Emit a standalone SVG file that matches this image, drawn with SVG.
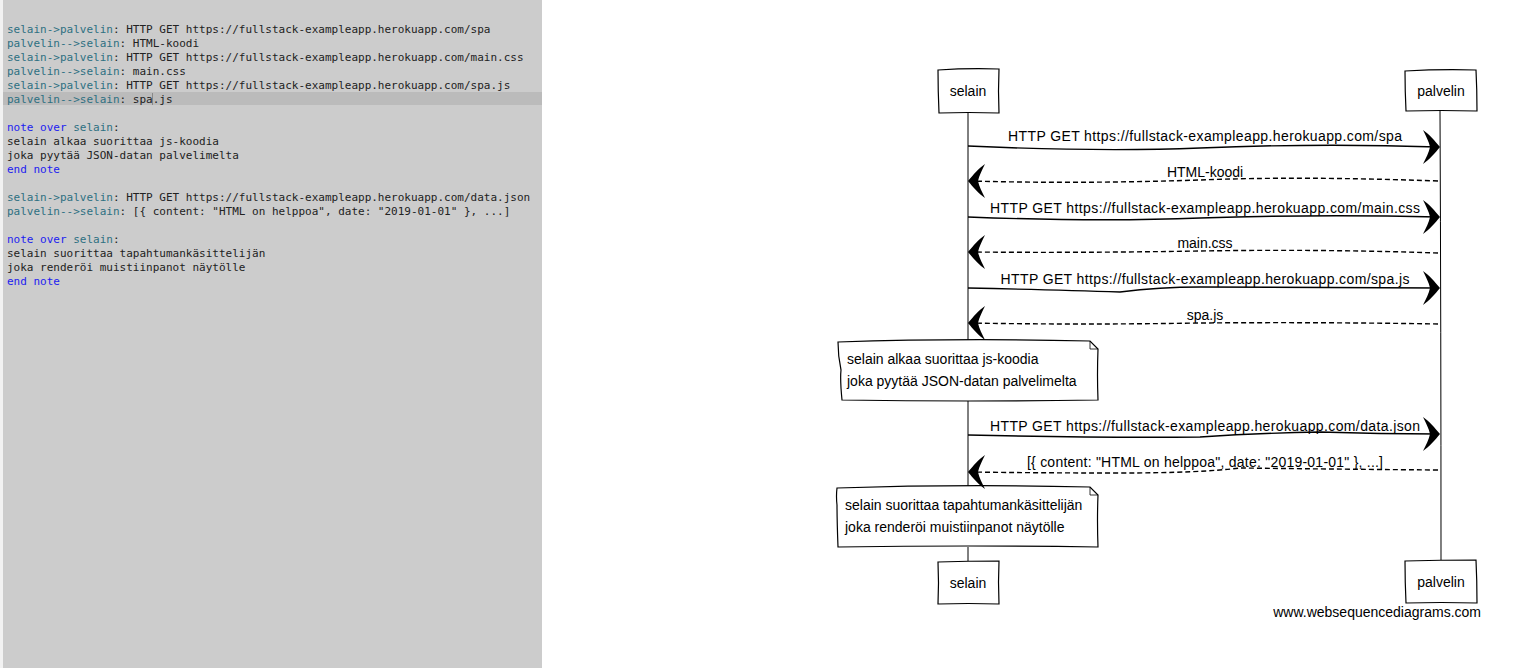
<svg xmlns="http://www.w3.org/2000/svg" width="1518" height="668" viewBox="0 0 1518 668">
<style>
.code{font-family:"DejaVu Sans Mono","Liberation Mono",monospace;font-size:11px;fill:#222}
.kw{fill:#2e7082}
.blue{fill:#1c1cf0}
.lbl{font-family:"Liberation Sans",Arial,sans-serif;font-size:14px;fill:#000}
.box{fill:#fff;stroke:#000;stroke-width:1.2}
.life{fill:none;stroke:#000;stroke-width:1}
.msg{fill:none;stroke:#000;stroke-width:1.4}
.dash{fill:none;stroke:#000;stroke-width:1.4;stroke-dasharray:5,3}
.head{fill:#000;stroke:none}
</style>
<defs>
<path id="ahR" d="M0,0 C-5,-6 -11,-13 -17,-17 C-14,-11 -11,-5 -10,0 C-11,5 -14,11 -17,17 C-11,13 -5,6 0,0Z"/>
<path id="ahL" d="M0,0 C5,-6 11,-13 17,-17 C14,-11 11,-5 10,0 C11,5 14,11 17,17 C11,13 5,6 0,0Z"/>
</defs>
<rect x="0" y="0" width="1518" height="668" fill="#fff"/>
<g id="editor">
<rect x="0" y="0" width="3" height="668" fill="#f2f2f2"/>
<rect x="3" y="0" width="539" height="668" fill="#cccccc"/>
<rect x="3" y="92" width="539" height="13" fill="#bbbbbb"/>
<line x1="152.5" y1="93" x2="152.5" y2="105" stroke="#888" stroke-width="1"/>
<text class="code" x="7" y="33"><tspan class="kw">selain-&gt;palvelin</tspan>: HTTP GET https://fullstack-exampleapp.herokuapp.com/spa</text>
<text class="code" x="7" y="47"><tspan class="kw">palvelin--&gt;selain</tspan>: HTML-koodi</text>
<text class="code" x="7" y="61"><tspan class="kw">selain-&gt;palvelin</tspan>: HTTP GET https://fullstack-exampleapp.herokuapp.com/main.css</text>
<text class="code" x="7" y="75"><tspan class="kw">palvelin--&gt;selain</tspan>: main.css</text>
<text class="code" x="7" y="89"><tspan class="kw">selain-&gt;palvelin</tspan>: HTTP GET https://fullstack-exampleapp.herokuapp.com/spa.js</text>
<text class="code" x="7" y="103"><tspan class="kw">palvelin--&gt;selain</tspan>: spa.js</text>
<text class="code" x="7" y="131"><tspan class="blue">note over </tspan><tspan class="kw">selain</tspan>:</text>
<text class="code" x="7" y="145">selain alkaa suorittaa js-koodia</text>
<text class="code" x="7" y="159">joka pyytää JSON-datan palvelimelta</text>
<text class="code" x="7" y="173"><tspan class="blue">end note</tspan></text>
<text class="code" x="7" y="201"><tspan class="kw">selain-&gt;palvelin</tspan>: HTTP GET https://fullstack-exampleapp.herokuapp.com/data.json</text>
<text class="code" x="7" y="215"><tspan class="kw">palvelin--&gt;selain</tspan>: [{ content: "HTML on helppoa", date: "2019-01-01" }, ...]</text>
<text class="code" x="7" y="243"><tspan class="blue">note over </tspan><tspan class="kw">selain</tspan>:</text>
<text class="code" x="7" y="257">selain suorittaa tapahtumankäsittelijän</text>
<text class="code" x="7" y="271">joka renderöi muistiinpanot näytölle</text>
<text class="code" x="7" y="285"><tspan class="blue">end note</tspan></text>
</g>
<g id="lifelines">
<path class="life" d="M968,113 L968,340 M968,401 L968,487 M968,547 L968,561"/>
<path class="life" d="M1440,111 Q1441,330 1441,560"/>
</g>
<g id="selain-top">
<path class="box" d="M938,70 Q968,68 999,69 Q998,91 999,113 Q968,112 939,113 Q938,91 938,70Z"/>
<text class="lbl" x="968" y="96" text-anchor="middle">selain</text>
</g>
<g id="palvelin-top">
<path class="box" d="M1405,71 Q1441,69 1476,70 Q1477,90 1477,111 Q1441,110 1406,111 Q1405,91 1405,71Z"/>
<text class="lbl" x="1441" y="96" text-anchor="middle">palvelin</text>
</g>
<g id="selain-bottom">
<path class="box" d="M938,562 Q968,561 999,561 Q998,582 999,604 Q968,603 938,604 Q939,583 938,562Z"/>
<text class="lbl" x="968" y="588" text-anchor="middle">selain</text>
</g>
<g id="palvelin-bottom">
<path class="box" d="M1405,561 Q1441,560 1476,560 Q1477,581 1477,603 Q1441,602 1406,603 Q1405,582 1405,561Z"/>
<text class="lbl" x="1441" y="587" text-anchor="middle">palvelin</text>
</g>
<g id="note1">
<path class="box" d="M838,342 Q960,338 1090,341 L1098,349 Q1097,375 1098,400 Q970,402 842,400 Q840,380 841,370 Q838,356 838,342Z"/>
<path fill="none" stroke="#000" stroke-width="0.8" d="M1090,341 L1090,349 L1098,349"/>
<text class="lbl" x="847" y="364">selain alkaa suorittaa js-koodia</text>
<text class="lbl" x="847" y="386">joka pyytää JSON-datan palvelimelta</text>
</g>
<g id="note2">
<path class="box" d="M837,488 Q960,484 1090,487 L1098,495 Q1097,520 1098,547 Q970,545 838,547 Q837,520 837,505 Q836,496 837,488Z"/>
<path fill="none" stroke="#000" stroke-width="0.8" d="M1090,487 L1090,495 L1098,495"/>
<text class="lbl" x="845" y="510">selain suorittaa tapahtumankäsittelijän</text>
<text class="lbl" x="845" y="532">joka renderöi muistiinpanot näytölle</text>
</g>
<g id="connectors">
<path class="msg" d="M968,146 Q1100,152 1200,148 Q1320,143 1438,147"/>
<use href="#ahR" x="1440" y="147"/>
<text class="lbl" x="1205" y="141" text-anchor="middle" textLength="394">HTTP GET https://fullstack-exampleapp.herokuapp.com/spa</text>

<path class="dash" d="M1438,181 Q1300,176 1200,180 Q1080,184 970,181"/>
<use href="#ahL" x="968" y="181"/>
<text class="lbl" x="1205" y="177" text-anchor="middle">HTML-koodi</text>

<path class="msg" d="M968,217 Q1100,222 1200,218 Q1320,214 1438,217"/>
<use href="#ahR" x="1440" y="217"/>
<text class="lbl" x="1205" y="213" text-anchor="middle" textLength="430">HTTP GET https://fullstack-exampleapp.herokuapp.com/main.css</text>

<path class="dash" d="M1438,253 Q1320,249 1200,251 Q1080,253 970,252"/>
<use href="#ahL" x="968" y="252"/>
<text class="lbl" x="1205" y="248" text-anchor="middle">main.css</text>

<path class="msg" d="M968,288 Q1060,290 1120,292 Q1160,287 1200,287 Q1320,288 1438,288"/>
<use href="#ahR" x="1440" y="288"/>
<text class="lbl" x="1205" y="284" text-anchor="middle" textLength="409">HTTP GET https://fullstack-exampleapp.herokuapp.com/spa.js</text>

<path class="dash" d="M1438,324 Q1320,322 1200,323 Q1080,325 970,323"/>
<use href="#ahL" x="968" y="323"/>
<text class="lbl" x="1205" y="320" text-anchor="middle">spa.js</text>

<path class="msg" d="M968,435 Q1100,438 1200,437 Q1260,433 1320,432 Q1380,434 1438,434"/>
<use href="#ahR" x="1440" y="434"/>
<text class="lbl" x="1205" y="431" text-anchor="middle" textLength="430">HTTP GET https://fullstack-exampleapp.herokuapp.com/data.json</text>

<path class="dash" d="M1438,470 Q1320,469 1240,468 Q1200,473 1120,473 Q1040,473 970,472"/>
<use href="#ahL" x="968" y="472"/>
<text class="lbl" x="1205" y="467" text-anchor="middle" textLength="356">[{ content: "HTML on helppoa", date: "2019-01-01" }, ...]</text>
</g>
<text class="lbl" x="1481" y="617" text-anchor="end">www.websequencediagrams.com</text>
</svg>
